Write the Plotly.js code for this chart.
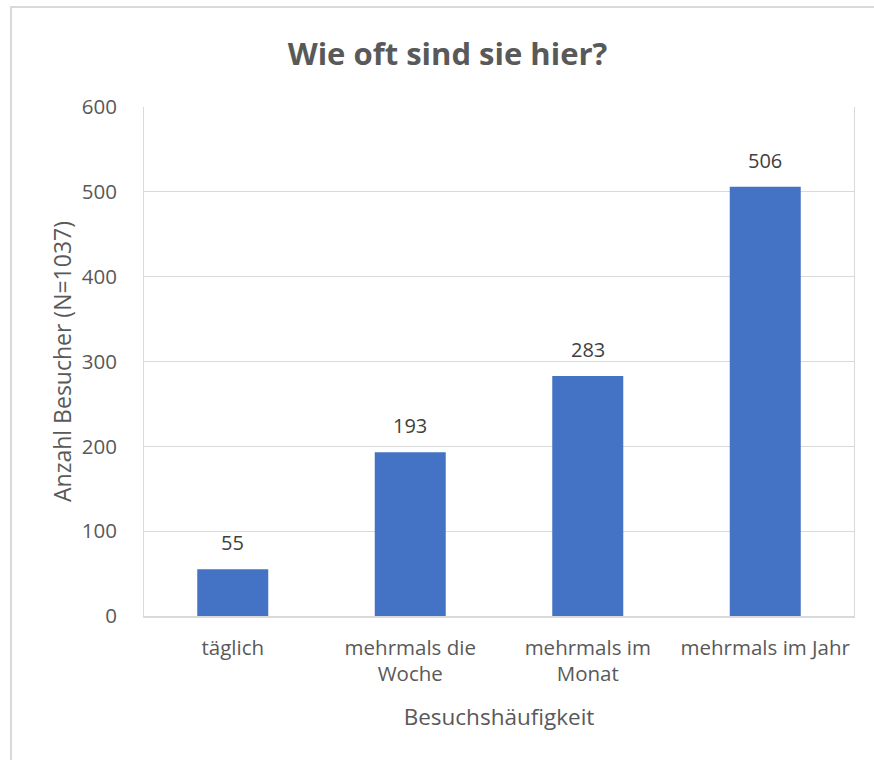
<!DOCTYPE html>
<html>
<head>
<meta charset="utf-8">
<script src="https://cdn.plot.ly/plotly-3.0.1.min.js"></script>
<style>
html,body{margin:0;padding:0;background:#fff;overflow:hidden;}
#frame{position:absolute;left:10px;top:6px;width:900px;height:800px;border:2px solid #d9d9d9;box-sizing:border-box;pointer-events:none;z-index:5;}
#chart{position:absolute;left:0;top:0;width:874px;height:760px;}
</style>
</head>
<body>
<div id="chart"></div>
<div id="frame"></div>
<script>
const categories = ["täglich", "mehrmals die<br>Woche", "mehrmals im<br>Monat", "mehrmals im Jahr"];
const values = [55, 193, 283, 506];
const yTicks = [0, 100, 200, 300, 400, 500, 600];

const font = "'Open Sans', sans-serif";
const grey = "#595959";

const trace = {
  type: "bar",
  x: categories,
  y: values,
  marker: {color: "#4472C4"},
  hoverinfo: "none"
};

const annotations = categories.map((c, i) => ({
  x: c, y: values[i], xref: "x", yref: "y",
  text: String(values[i]),
  showarrow: false,
  yanchor: "bottom",
  yshift: 11,
  font: {family: font, size: 20, color: "#404040"}
}));

const layout = {
  width: 874,
  height: 760,
  margin: {l: 144, r: 20, t: 107, b: 144},
  paper_bgcolor: "#fff",
  plot_bgcolor: "#fff",
  bargap: 0.6,
  showlegend: false,
  annotations: annotations,
  title: {
    text: "<b>Wie oft sind sie hier?</b>",
    font: {family: font, size: 31, color: grey},
    x: 447.5/874, xref: "container", xanchor: "center",
    y: 1 - 54/760, yref: "container", yanchor: "middle"
  },
  xaxis: {
    type: "category",
    showgrid: false,
    showline: true,
    linecolor: "#d9d9d9",
    linewidth: 2,
    ticks: "",
    tickfont: {family: font, size: 20.5, color: grey},
    ticklabelstandoff: 12,
    title: {text: "Besuchshäufigkeit", font: {family: font, size: 22.5, color: grey}, standoff: 23}
  },
  yaxis: {
    range: [0, 600],
    tickvals: yTicks,
    showgrid: true,
    gridcolor: "#d9d9d9",
    gridwidth: 1,
    zeroline: false,
    showline: true,
    linecolor: "#d9d9d9",
    linewidth: 1,
    mirror: true,
    ticks: "",
    tickfont: {family: font, size: 20.5, color: grey},
    ticklabelstandoff: 22,
    title: {text: "Anzahl Besucher (N=1037)", font: {family: font, size: 23, color: grey}, standoff: 3}
  }
};

Plotly.newPlot("chart", [trace], layout, {displayModeBar: false, staticPlot: true});
</script>
</body>
</html>
